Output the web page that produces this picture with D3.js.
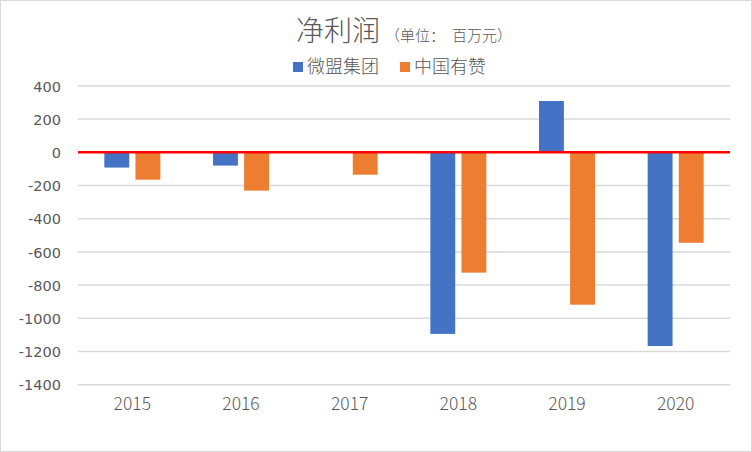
<!DOCTYPE html>
<html>
<head>
<meta charset="utf-8">
<script src="https://cdn.jsdelivr.net/npm/d3@7"></script>
<style>
  html, body { margin: 0; padding: 0; background: #fff; }
  svg { display: block; }
</style>
</head>
<body>
<div id="chart"></div>
<script>
const years = ['2015', '2016', '2017', '2018', '2019', '2020'];
const seriesNames = ['微盟集团', '中国有赞'];
const weimob = [-92, -80, null, -1094, 309, -1167];
const youzan = [-165, -231, -135, -725, -918, -545];
const yTicks = [400, 200, 0, -200, -400, -600, -800, -1000, -1200, -1400];
const colors = ['#4472c4', '#ed7d31'];

const width = 752, height = 452;
const plot = { left: 78, right: 730, top: 85.9, bottom: 384.7 };
const textColor = '#595959';
const cjkFont = '"Noto Sans CJK SC", sans-serif';

const svg = d3.select('#chart')
  .append('svg')
    .attr('width', width)
    .attr('height', height);

svg.append('rect')
  .attr('x', 0.5).attr('y', 0.5)
  .attr('width', width - 1).attr('height', height - 1)
  .attr('fill', '#fff')
  .attr('stroke', '#d9d9d9');

const x0 = d3.scaleBand()
  .domain(years)
  .range([plot.left, plot.right]);

const x1 = d3.scaleBand()
  .domain(seriesNames)
  .range([x0.bandwidth() / 2 - 28, x0.bandwidth() / 2 + 28])
  .paddingInner(0.2);

const y = d3.scaleLinear()
  .domain([-1400, 400])
  .range([plot.bottom, plot.top]);

// gridlines
svg.append('g')
  .selectAll('line')
  .data(yTicks.filter(d => d !== 0))
  .enter().append('line')
    .attr('x1', plot.left).attr('x2', plot.right)
    .attr('y1', d => y(d)).attr('y2', d => y(d))
    .attr('stroke', '#d9d9d9')
    .attr('stroke-width', 1.5);

// y labels
const yAxis = d3.axisLeft(y)
  .tickValues(yTicks)
  .tickFormat(d => String(d))
  .tickSize(0)
  .tickPadding(0);
const gy = svg.append('g')
  .attr('transform', `translate(61,0)`)
  .call(yAxis);
gy.select('.domain').remove();
gy.selectAll('text')
  .attr('fill', textColor)
  .attr('font-family', '"DejaVu Sans", sans-serif')
  .attr('font-size', 14.5)
  .attr('dy', '0.36em');

// x labels
const xAxis = d3.axisBottom(x0).tickSize(0).tickPadding(0);
const gx = svg.append('g')
  .attr('transform', `translate(0,${y(-1400) + 13})`)
  .call(xAxis);
gx.select('.domain').remove();
gx.selectAll('text')
  .attr('fill', textColor)
  .attr('font-family', cjkFont)
  .attr('font-size', 17.5)
  .attr('font-weight', 300);

// bars
const series = [weimob, youzan];
series.forEach((values, si) => {
  svg.append('g')
    .selectAll('rect')
    .data(values.map((v, i) => ({ year: years[i], value: v })).filter(d => d.value !== null))
    .enter().append('rect')
      .attr('x', d => x0(d.year) + x1(seriesNames[si]))
      .attr('width', x1.bandwidth())
      .attr('y', d => y(Math.max(0, d.value)))
      .attr('height', d => Math.abs(y(d.value) - y(0)))
      .attr('fill', colors[si]);
});

// zero line
svg.append('line')
  .attr('x1', plot.left).attr('x2', plot.right)
  .attr('y1', y(0)).attr('y2', y(0))
  .attr('stroke', '#ff0000')
  .attr('stroke-width', 2.5);

// title
const title = svg.append('text')
  .attr('x', 296)
  .attr('y', 41)
  .attr('fill', textColor)
  .attr('font-family', cjkFont)
  .attr('font-weight', 300);
title.append('tspan')
  .attr('font-size', 28)
  .text('净利润');
title.append('tspan')
  .attr('font-size', 15)
  .attr('dx', 5)
  .text('（单位：');
title.append('tspan')
  .attr('font-size', 15)
  .attr('dx', 7)
  .text('百万元）');

// legend
const legendX = [293, 400];
const legend = svg.append('g')
  .selectAll('g')
  .data(seriesNames)
  .enter().append('g')
    .attr('transform', (d, i) => `translate(${legendX[i]},62)`);
legend.append('rect')
  .attr('width', 10).attr('height', 10)
  .attr('fill', (d, i) => colors[i]);
legend.append('text')
  .attr('x', 14)
  .attr('y', 11)
  .attr('fill', textColor)
  .attr('font-family', cjkFont)
  .attr('font-size', 18)
  .attr('font-weight', 300)
  .text(d => d);
</script>
</body>
</html>
